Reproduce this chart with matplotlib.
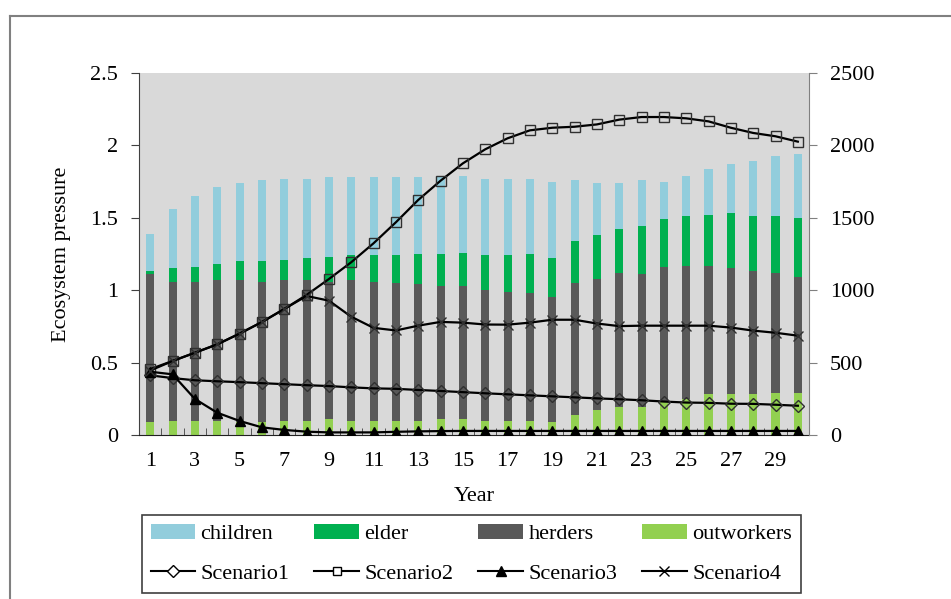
import numpy as np
import matplotlib
matplotlib.use("Agg")
import matplotlib.pyplot as plt
from matplotlib.lines import Line2D
from matplotlib.patches import Patch
from matplotlib.ticker import FixedLocator

plt.rcParams["font.family"] = ["Liberation Serif", "DejaVu Serif"]
plt.rcParams["font.size"] = 16

# datos
years = np.arange(1, 31)
outworkers = [0.09, 0.10, 0.10, 0.10, 0.09, 0.09, 0.10, 0.10, 0.11, 0.10,
              0.10, 0.10, 0.10, 0.11, 0.11, 0.10, 0.10, 0.10, 0.09, 0.14,
              0.17, 0.19, 0.19, 0.23, 0.25, 0.28, 0.28, 0.28, 0.29, 0.29]
herders = [1.02, 0.96, 0.96, 0.97, 0.98, 0.97, 0.97, 0.97, 0.95, 0.97,
           0.96, 0.95, 0.94, 0.92, 0.92, 0.90, 0.89, 0.88, 0.86, 0.91,
           0.91, 0.93, 0.92, 0.93, 0.92, 0.89, 0.87, 0.85, 0.83, 0.80]
elder = [0.02, 0.09, 0.10, 0.11, 0.13, 0.14, 0.14, 0.15, 0.17, 0.17,
         0.18, 0.19, 0.21, 0.22, 0.23, 0.24, 0.25, 0.27, 0.27, 0.29,
         0.30, 0.30, 0.33, 0.33, 0.34, 0.35, 0.38, 0.38, 0.39, 0.41]
children = [0.26, 0.41, 0.49, 0.53, 0.54, 0.56, 0.56, 0.55, 0.55, 0.54,
            0.54, 0.54, 0.53, 0.53, 0.53, 0.53, 0.53, 0.52, 0.53, 0.42,
            0.36, 0.32, 0.32, 0.26, 0.28, 0.32, 0.34, 0.38, 0.42, 0.44]

scenario1 = [412, 393, 378, 371, 365, 358, 351, 344, 338, 329,
             322, 319, 311, 304, 296, 288, 281, 274, 267, 260,
             253, 247, 240, 231, 224, 222, 216, 215, 209, 202]
scenario2 = [455, 511, 568, 626, 700, 780, 870, 967, 1077, 1193,
             1324, 1469, 1623, 1756, 1876, 1973, 2049, 2104, 2122, 2129,
             2145, 2178, 2196, 2196, 2187, 2166, 2122, 2086, 2063, 2026]
scenario3 = [437, 419, 249, 154, 97, 53, 35, 23, 18, 18,
             18, 22, 25, 27, 28, 28, 28, 28, 28, 28,
             28, 28, 28, 28, 28, 28, 28, 28, 28, 28]
scenario4 = [445, 511, 568, 626, 700, 780, 870, 960, 928, 817,
             740, 722, 755, 781, 776, 763, 762, 776, 796, 796,
             770, 752, 755, 755, 755, 755, 742, 721, 706, 686]

colores = {"children": "#92cddc", "elder": "#00b050",
           "herders": "#595959", "outworkers": "#92d050"}

fig = plt.figure(figsize=(9.51, 5.99), dpi=100)
ax = fig.add_axes([0.1462, 0.2738, 0.7045, 0.6043])
ax2 = ax.twinx()

# barras apiladas
ancho = 0.36
base = np.zeros(len(years))
for nombre, valores in [("outworkers", outworkers), ("herders", herders),
                        ("elder", elder), ("children", children)]:
    ax.bar(years, valores, ancho, bottom=base, color=colores[nombre],
           edgecolor="none", zorder=2)
    base = base + np.array(valores)

ax.set_facecolor("#d9d9d9")
ax.set_xlim(0.5, 30.5)
ax.set_ylim(0, 2.5)
ax.set_yticks([0, 0.5, 1, 1.5, 2, 2.5])
ax.set_yticklabels(["0", "0.5", "1", "1.5", "2", "2.5"])
ax.set_xticks(years[::2])
ax.set_xticklabels([str(y) for y in years[::2]])
ax.xaxis.set_minor_locator(FixedLocator(np.arange(1.5, 30.5, 1)))
ax.tick_params(axis="x", which="major", length=0, pad=12)
ax.tick_params(axis="x", which="minor", direction="in", length=5,
               color="#404040")
ax.tick_params(axis="y", direction="out", length=6, pad=9, color="#404040")
for lado in ["top", "right"]:
    ax.spines[lado].set_visible(False)
ax.spines["left"].set_color("#404040")
ax.spines["bottom"].set_color("#202020")
ax.set_ylabel("Ecosystem pressure", labelpad=14)
ax.set_xlabel("Year", labelpad=12)

# escenarios
estilo = dict(color="black", linewidth=1.6, markerfacecolor="none",
              markeredgecolor="#303030", markeredgewidth=1.0)
ax2.plot(years, scenario1, marker="D", markersize=6.5, **estilo)
ax2.plot(years, scenario2, marker="s", markersize=7, **estilo)
ax2.plot(years, scenario3, marker="^", markersize=7, color="black",
         linewidth=1.6, markerfacecolor="black", markeredgecolor="black")
ax2.plot(years, scenario4, marker="x", markersize=7, color="black",
         linewidth=1.6, markeredgecolor="#303030", markeredgewidth=1.0)
ax2.set_ylim(0, 2500)
ax2.set_yticks([0, 500, 1000, 1500, 2000, 2500])
ax2.tick_params(axis="y", direction="out", length=6, pad=9, color="#808080")
for lado in ["top", "left", "bottom"]:
    ax2.spines[lado].set_visible(False)
ax2.spines["right"].set_color("#808080")

# leyenda
handles = [
    Patch(facecolor=colores["children"], edgecolor="none", label="children"),
    Line2D([], [], color="black", marker="D", markersize=6,
           markerfacecolor="white", label="Scenario1"),
    Patch(facecolor=colores["elder"], edgecolor="none", label="elder"),
    Line2D([], [], color="black", marker="s", markersize=6,
           markerfacecolor="white", label="Scenario2"),
    Patch(facecolor=colores["herders"], edgecolor="none", label="herders"),
    Line2D([], [], color="black", marker="^", markersize=7, label="Scenario3"),
    Patch(facecolor=colores["outworkers"], edgecolor="none", label="outworkers"),
    Line2D([], [], color="black", marker="x", markersize=7, label="Scenario4"),
]
leg = fig.legend(handles=handles, ncol=4, loc="center", mode="expand",
                 bbox_to_anchor=(0.142, 0.012, 0.707, 0.127),
                 fancybox=False, edgecolor="#404040", handlelength=2.0,
                 handletextpad=0.25, columnspacing=1.0, labelspacing=0.85,
                 borderpad=0.4, borderaxespad=0.3, framealpha=1)
leg.get_frame().set_linewidth(1.2)

# marco de la figura (solo izquierda y arriba)
fig.add_artist(Line2D([10 / 951, 10 / 951], [0, 1 - 16 / 599],
                      color="#808080", linewidth=1.5))
fig.add_artist(Line2D([10 / 951, 1], [1 - 16 / 599, 1 - 16 / 599],
                      color="#808080", linewidth=1.5))

fig.savefig("out.png", dpi=100)
plt.close(fig)
